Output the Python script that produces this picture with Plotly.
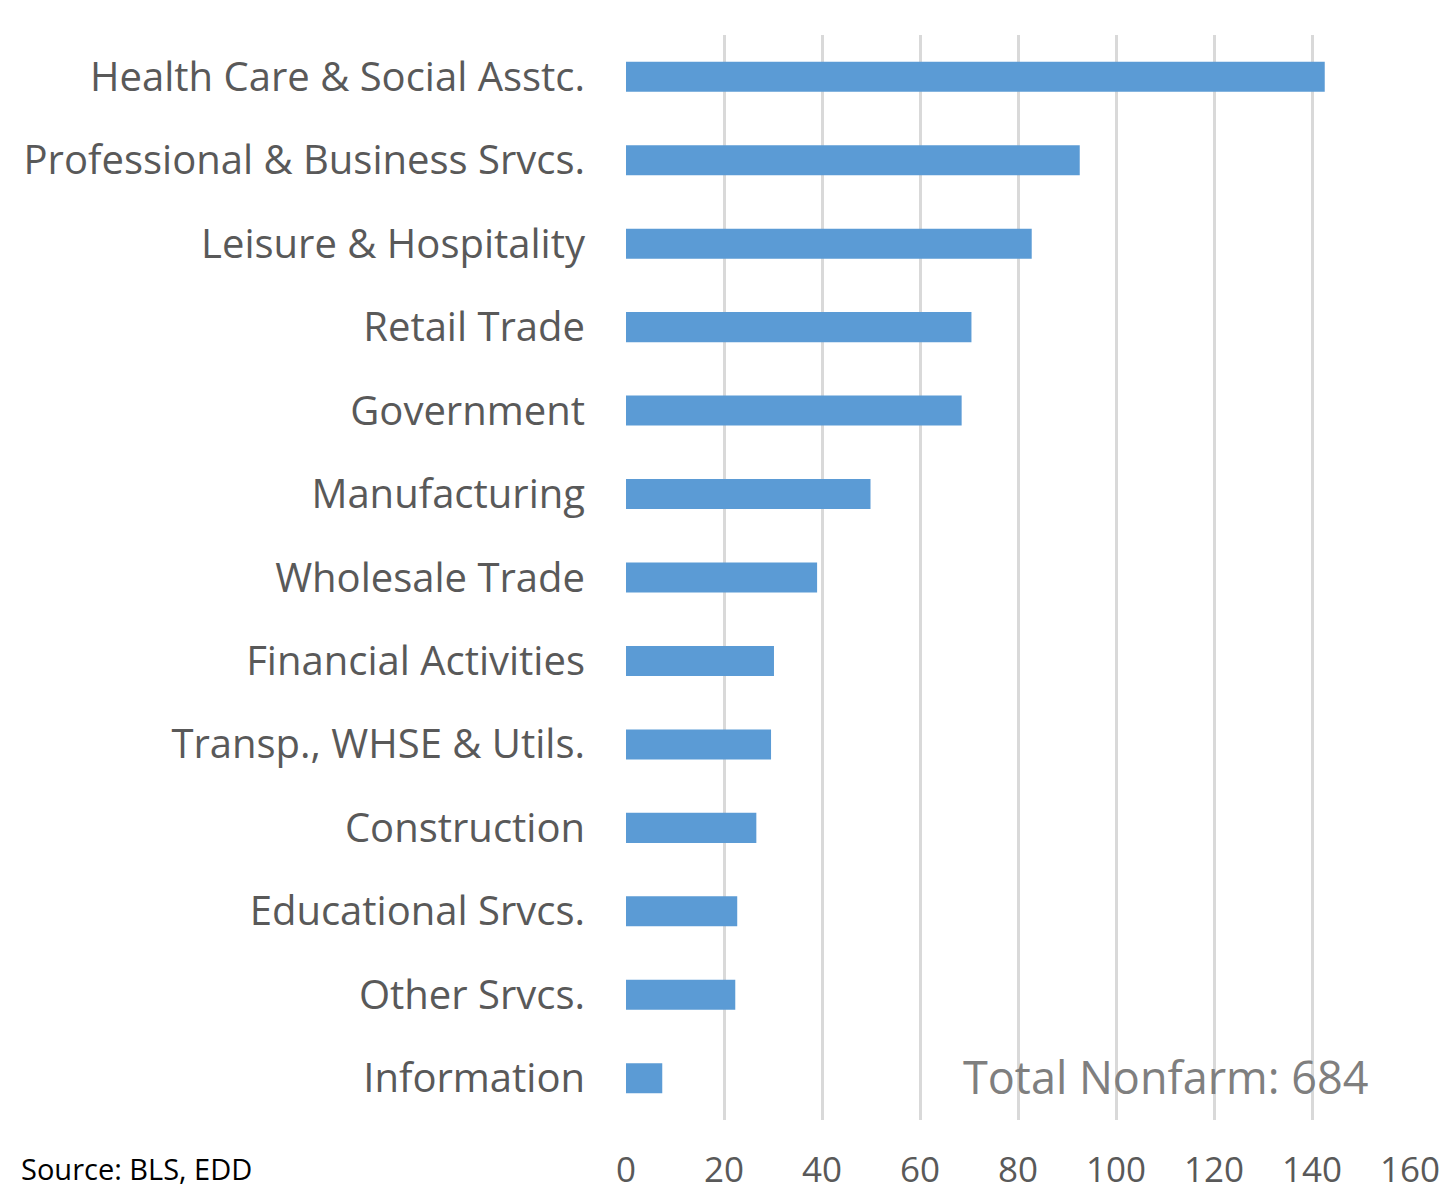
import plotly.graph_objects as go

categories = [
    "Health Care & Social Asstc.",
    "Professional & Business Srvcs.",
    "Leisure & Hospitality",
    "Retail Trade",
    "Government",
    "Manufacturing",
    "Wholesale Trade",
    "Financial Activities",
    "Transp., WHSE & Utils.",
    "Construction",
    "Educational Srvcs.",
    "Other Srvcs.",
    "Information",
]
values = [142.6, 92.6, 82.8, 70.5, 68.5, 49.9, 39.0, 30.2, 29.6, 26.6, 22.7, 22.3, 7.4]
x_ticks = [0, 20, 40, 60, 80, 100, 120, 140, 160]

L, R, T, B = 618, 51, 27, 72
W, H = 1453, 1184
PW, PH = W - L - R, H - T - B

fig = go.Figure(
    go.Bar(
        y=categories,
        x=values,
        orientation="h",
        marker=dict(color="#5b9bd5", line=dict(width=0)),
    )
)

fig.update_layout(
    width=W,
    height=H,
    margin=dict(l=L, r=R, t=T, b=B),
    plot_bgcolor="white",
    paper_bgcolor="white",
    bargap=0.64,
    showlegend=False,
    font=dict(family="Open Sans", color="#595959"),
)

fig.update_xaxes(
    range=[0, 160],
    tickvals=x_ticks,
    showgrid=True,
    gridcolor="#d9d9d9",
    gridwidth=2.5,
    zeroline=False,
    showline=False,
    automargin=False,
    tickfont=dict(size=35, color="#595959"),
    ticklabelstandoff=26,
)
fig.update_yaxes(
    categoryorder="array",
    categoryarray=categories[::-1],
    showgrid=False,
    zeroline=False,
    showline=False,
    automargin=False,
    tickfont=dict(size=40, color="#595959"),
    ticklabelstandoff=40,
)

fig.add_annotation(
    text="Total Nonfarm: 684",
    xref="paper", yref="paper",
    x=(1362 - L) / PW, y=(H - B - 1068) / PH,
    xanchor="right", yanchor="middle",
    showarrow=False,
    font=dict(size=45, color="#7f7f7f"),
)
fig.add_annotation(
    text="Source: BLS, EDD",
    xref="paper", yref="paper",
    x=(12 - L) / PW, y=(H - B - 1160) / PH,
    xanchor="left", yanchor="middle",
    showarrow=False,
    borderpad=0,
    font=dict(size=29, color="#000000"),
)

fig.write_html("out.html")
